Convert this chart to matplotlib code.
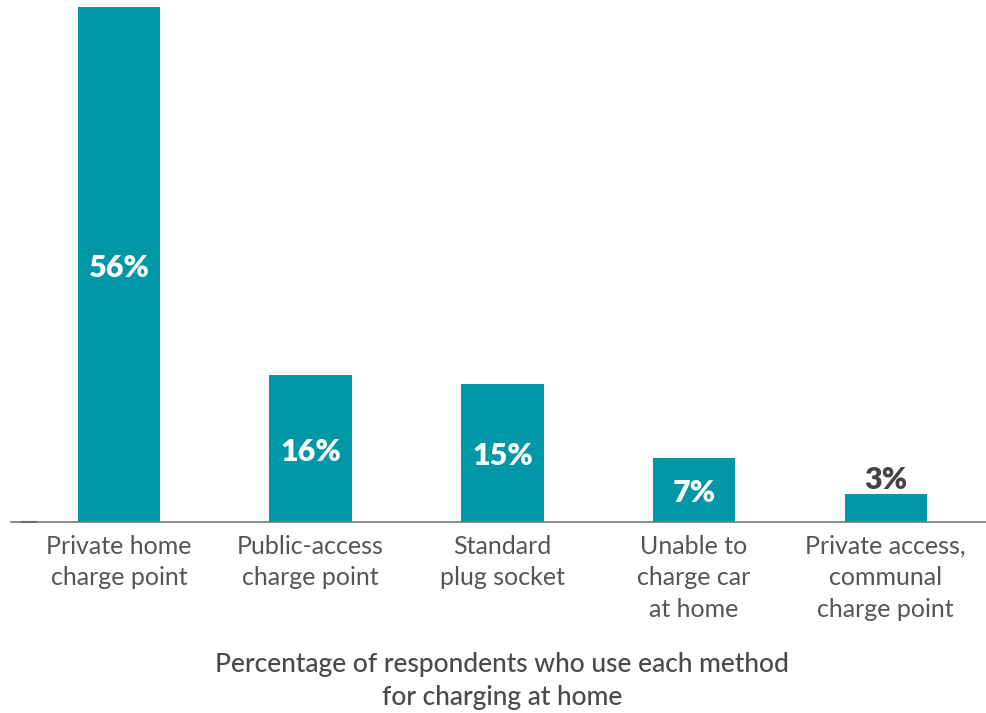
import matplotlib.pyplot as plt

categories = ["Private home\ncharge point", "Public-access\ncharge point", "Standard\nplug socket",
              "Unable to\ncharge car\nat home", "Private access,\ncommunal\ncharge point"]
values = [56, 16, 15, 7, 3]
labels = ["56%", "16%", "15%", "7%", "3%"]

teal = "#0097a7"
grey = "#555555"
plt.rcParams['font.family'] = ['Lato', 'DejaVu Sans']

fig = plt.figure(figsize=(9.86, 7.13), dpi=100)
# axes spans x 11..986 px, y 7..522 px
ax = fig.add_axes([11 / 986, (713 - 522) / 713, 975 / 986, 515 / 713])

x = range(len(values))
ax.bar(x, values, width=0.43, color=teal, zorder=2)
ax.set_xlim(-0.563, 4.523)
ax.set_ylim(0, 56)

for i, (v, lab) in enumerate(zip(values, labels)):
    if v >= 5:
        ax.text(i, v / 2 - 0.35, lab, ha="center", va="center", color="white",
                fontsize=22, fontweight="heavy")
    else:
        ax.text(i, v + 0.05, lab, ha="center", va="bottom", color="#444444",
                fontsize=22, fontweight="heavy")

for s in ["top", "right", "left"]:
    ax.spines[s].set_visible(False)
ax.spines["bottom"].set_color("#777777")
ax.spines["bottom"].set_linewidth(1.2)
ax.set_yticks([])
ax.set_xticks(list(x))
ax.set_xticklabels(categories, fontsize=18, color=grey, linespacing=1.45)
ax.tick_params(axis="x", length=0, pad=9)

# small tick at the left end of the baseline
ax.plot([0.011, 0.026], [0, 0], transform=ax.transAxes, color="#444444",
        lw=1.5, clip_on=False)

fig.text(0.509, 1 - 681 / 713, "Percentage of respondents who use each method\nfor charging at home",
         ha="center", va="center", fontsize=19, color="#4a4a4a", linespacing=1.4,
         fontweight="medium")

fig.savefig("out.png", dpi=100)
